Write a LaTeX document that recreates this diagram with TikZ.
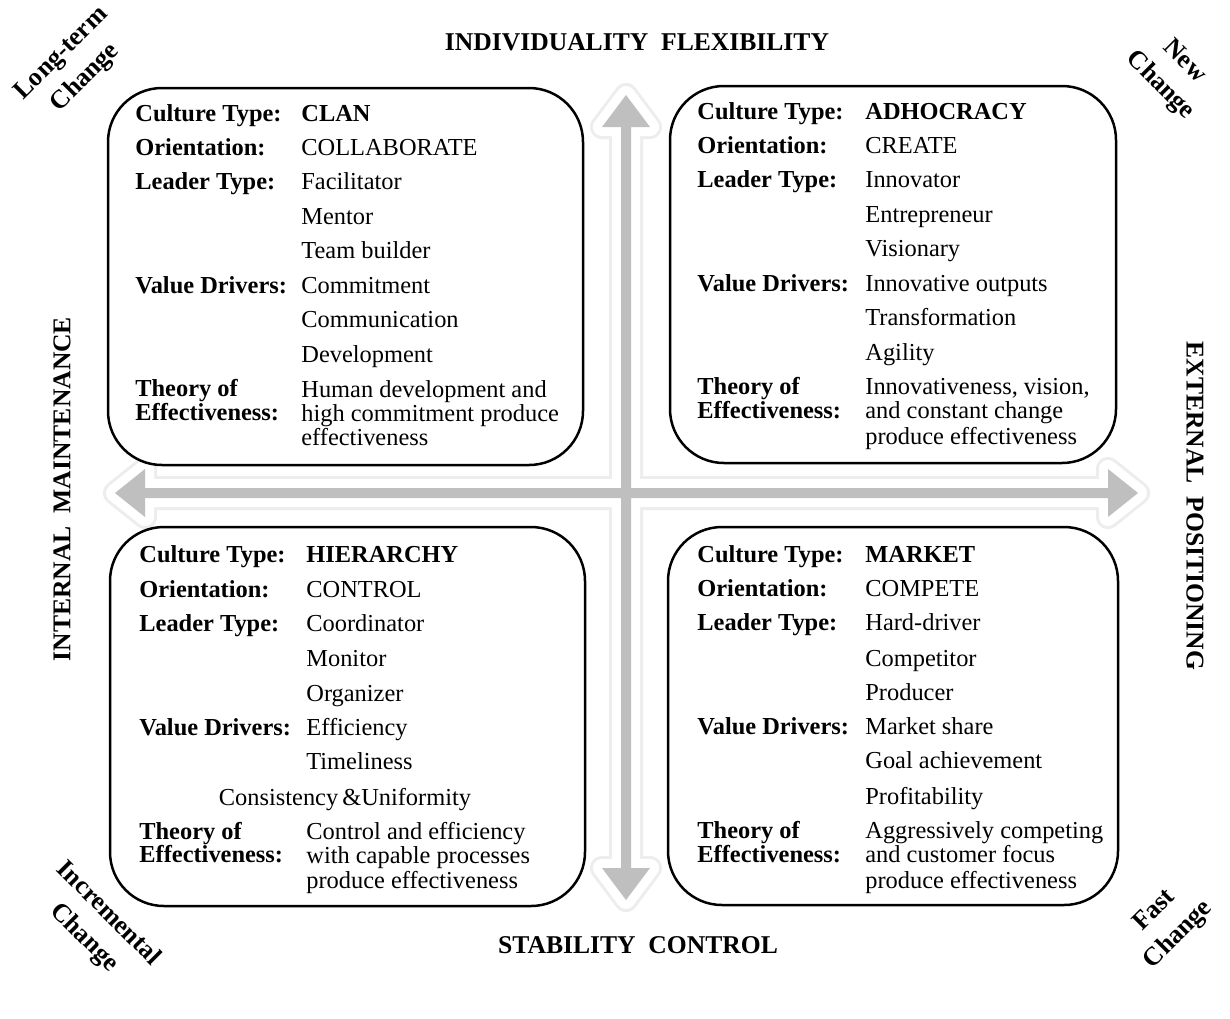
\documentclass[tikz,border=0pt]{standalone}
\usepackage{fontspec}
\setmainfont{Liberation Serif}
\tikzset{
  lbl/.style={anchor=base west, inner sep=0pt, font=\fontsize{12.2}{12.2}\selectfont\bfseries},
  vl/.style={anchor=base west, inner sep=0pt, font=\fontsize{12.2}{12.2}\selectfont},
  axislbl/.style={inner sep=0pt, font=\fontsize{12.8}{13}\selectfont\bfseries},
  cornerlbl/.style={inner sep=0pt, align=center, font=\fontsize{13}{17}\selectfont\bfseries},
  quad/.style={draw=black, line width=1.25pt, fill=white, rounded corners=27pt},
  arrglow/.style={draw=black!7, line width=12pt, line join=round, fill=black!7},
  arrwhite/.style={draw=white, line width=9pt, line join=round, fill=white},
  arrgrey/.style={fill=black!25, draw=none}
}
\newcommand\Lb[4]{\node[lbl] (#1) at (#2,#3) {#4};}
\newcommand\Vl[4]{\node[vl] (#1) at (#2,#3) {#4};}
\begin{document}
\begin{tikzpicture}[x=0.5pt,y=-0.5pt]
\useasboundingbox (0,0) rectangle (1230,1018);
\fill[white] (0,0) rectangle (1230,1018);

% arrows
\def\varrow{(626,95) -- (650,127) -- (631,127) -- (631,868) -- (650,868) -- (626,900) -- (602,868) -- (621,868) -- (621,127) -- (602,127) -- cycle}
\def\harrow{(115,493) -- (145,469) -- (145,488) -- (1108,488) -- (1108,469) -- (1138,493) -- (1108,517) -- (1108,498) -- (145,498) -- (145,517) -- cycle}
\path[arrglow] \varrow;
\path[arrglow] \harrow;
\path[arrwhite] \varrow;
\path[arrwhite] \harrow;
\path[arrgrey] \varrow;
\path[arrgrey] \harrow;

% quadrant boxes
\draw[quad] (108,88) rectangle (583,465);
\draw[quad] (670,86) rectangle (1116,463);
\draw[quad] (110,527) rectangle (585,906);
\draw[quad] (668,527) rectangle (1118,905);

% axis labels
\node[axislbl] (top) at (637,42) {INDIVIDUALITY\ \ FLEXIBILITY};
\node[axislbl] (bottom) at (638,945) {STABILITY\ \ CONTROL};
\node[axislbl, rotate=90] (left) at (62,489) {INTERNAL\ \ MAINTENANCE};
\node[axislbl, rotate=-90] (right) at (1195,506) {EXTERNAL\ \ POSITIONING};

% corner labels
\node[cornerlbl, rotate=45] (ltc) at (74,66) {Long-term\\Change};
\node[cornerlbl, rotate=-45] (nc) at (1172,74) {New\\Change};
\node[cornerlbl, rotate=-45] (ic) at (96,926) {Incremental\\Change};
\node[cornerlbl, rotate=45] (fc) at (1167,923) {Fast\\Change};

% CLAN
\Lb{c1}{135}{121}{Culture Type:} \Lb{c1v}{301}{121}{CLAN}
\Lb{c2}{135}{155}{Orientation:} \Vl{c2v}{301}{155}{COLLABORATE}
\Lb{c3}{135}{189}{Leader Type:} \Vl{c3v}{301}{189}{Facilitator}
\Vl{c4v}{301}{224}{Mentor}
\Vl{c5v}{301}{258}{Team builder}
\Lb{c6}{135}{293}{Value Drivers:} \Vl{c6v}{301}{293}{Commitment}
\Vl{c7v}{301}{327}{Communication}
\Vl{c8v}{301}{362}{Development}
\Lb{c9}{135}{396}{Theory of} \Lb{c10}{135}{420}{Effectiveness:}
\Vl{c9v}{301}{397}{Human development and}
\Vl{c10v}{301}{421}{high commitment produce}
\Vl{c11v}{301}{445}{effectiveness}

% ADHOCRACY
\Lb{a1}{697}{119}{Culture Type:} \Lb{a1v}{865}{119}{ADHOCRACY}
\Lb{a2}{697}{153}{Orientation:} \Vl{a2v}{865}{153}{CREATE}
\Lb{a3}{697}{187}{Leader Type:} \Vl{a3v}{865}{187}{Innovator}
\Vl{a4v}{865}{222}{Entrepreneur}
\Vl{a5v}{865}{256}{Visionary}
\Lb{a6}{697}{291}{Value Drivers:} \Vl{a6v}{865}{291}{Innovative outputs}
\Vl{a7v}{865}{325}{Transformation}
\Vl{a8v}{865}{360}{Agility}
\Lb{a9}{697}{394}{Theory of} \Lb{a10}{697}{418}{Effectiveness:}
\Vl{a9v}{865}{394}{Innovativeness, vision,}
\Vl{a10v}{865}{418}{and constant\ change}
\Vl{a11v}{865}{444}{produce effectiveness}

% HIERARCHY
\Lb{h1}{139}{562}{Culture Type:} \Lb{h1v}{306}{562}{HIERARCHY}
\Lb{h2}{139}{597}{Orientation:} \Vl{h2v}{306}{597}{CONTROL}
\Lb{h3}{139}{631}{Leader Type:} \Vl{h3v}{306}{631}{Coordinator}
\Vl{h4v}{306}{666}{Monitor}
\Vl{h5v}{306}{701}{Organizer}
\Lb{h6}{139}{735}{Value Drivers:} \Vl{h6v}{306}{735}{Efficiency}
\Vl{h7v}{306}{769}{Timeliness}
\node[vl, anchor=base] (h8v) at (345,805) {Consistency\,\&Uniformity};
\Lb{h9}{139}{839}{Theory of} \Lb{h10}{139}{862}{Effectiveness:}
\Vl{h9v}{306}{839}{Control and efficiency}
\Vl{h10v}{306}{863}{with capable processes}
\Vl{h11v}{306}{888}{produce effectiveness}

% MARKET
\Lb{m1}{697}{562}{Culture Type:} \Lb{m1v}{865}{562}{MARKET}
\Lb{m2}{697}{596}{Orientation:} \Vl{m2v}{865}{596}{COMPETE}
\Lb{m3}{697}{630}{Leader Type:} \Vl{m3v}{865}{630}{Hard-driver}
\Vl{m4v}{865}{666}{Competitor}
\Vl{m5v}{865}{700}{Producer}
\Lb{m6}{697}{734}{Value Drivers:} \Vl{m6v}{865}{734}{Market share}
\Vl{m7v}{865}{768}{Goal achievement}
\Vl{m8v}{865}{804}{Profitability}
\Lb{m9}{697}{838}{Theory of} \Lb{m10}{697}{862}{Effectiveness:}
\Vl{m9v}{865}{838}{Aggressively competing}
\Vl{m10v}{865}{862}{and customer focus}
\Vl{m11v}{865}{888}{produce effectiveness}
\end{tikzpicture}
\end{document}
